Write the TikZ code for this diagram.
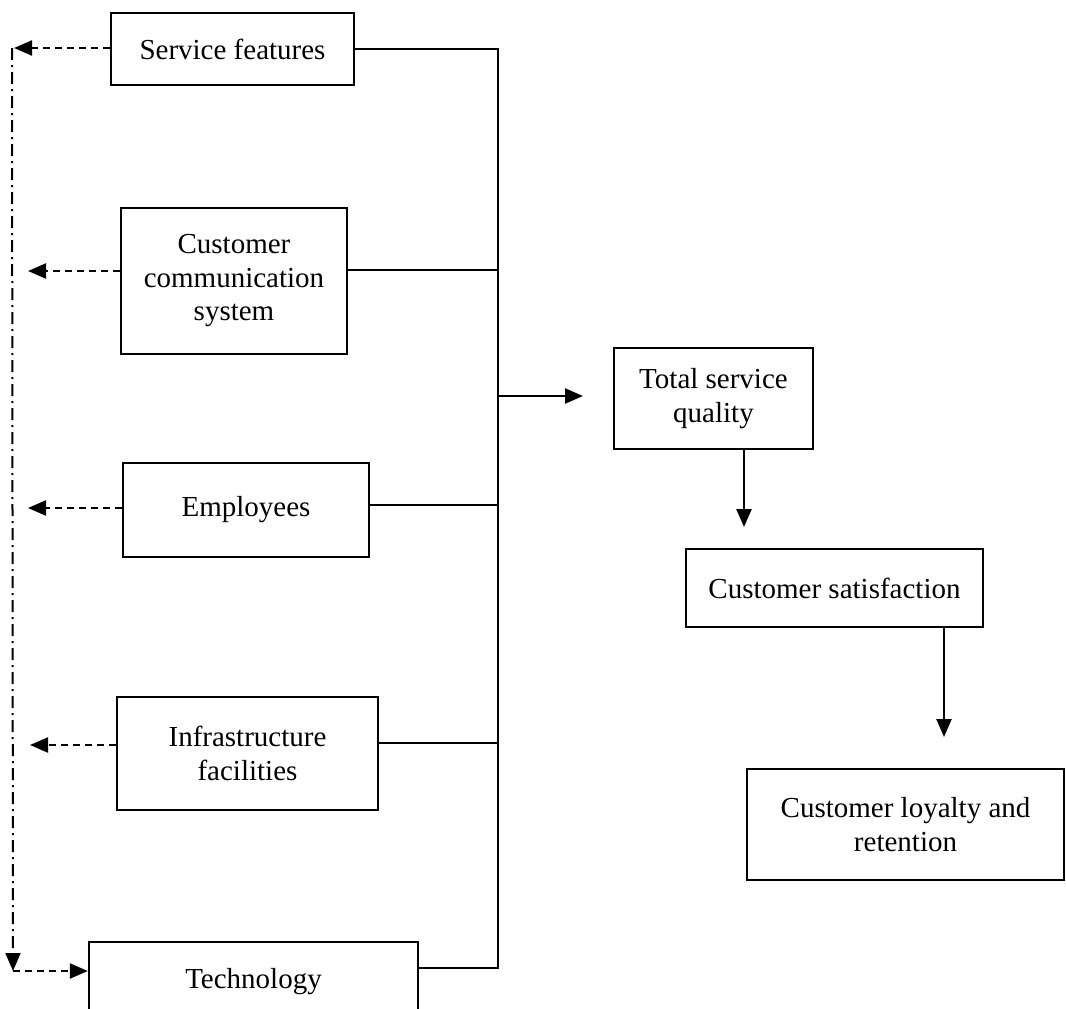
\documentclass[tikz,border=0pt]{standalone}
\usepackage{fontspec}
\setmainfont{Liberation Serif}
\usetikzlibrary{arrows.meta}

\begin{document}
\begin{tikzpicture}[x=1pt, y=-1pt, line width=2.4pt,
  box/.style={draw, rectangle, inner sep=0pt, align=center,
    font=\fontsize{29}{33.5}\selectfont},
  tip/.style={-{Triangle[length=18pt,width=15pt]}},
  dashline/.style={dash pattern=on 7pt off 5pt, line width=2.2pt},
  dashdotline/.style={dash pattern=on 12pt off 5pt on 2pt off 5pt, line width=2pt}]
\useasboundingbox (0,0) rectangle (1066,1009);
\clip (0,0) rectangle (1066,1009);

% quality dimensions
\node[box, minimum width=243pt, minimum height=72pt]  (sf)   at (232.5,49)  {Service features};
\node[box, minimum width=226pt, minimum height=146pt] (ccs)  at (234,281)   {Customer\\communication\\system};
\node[box, minimum width=246pt, minimum height=94pt]  (emp)  at (246,510)   {Employees};
\node[box, minimum width=261pt, minimum height=113pt] (inf)  at (247.5,753.5) {Infrastructure\\facilities};
\node[box, minimum width=329pt, minimum height=80pt]  (tech) at (253.5,982) {Technology};

% outcome chain
\node[box, minimum width=199pt, minimum height=101pt] (tsq) at (713.5,398.5) {Total service\\quality};
\node[box, minimum width=297pt, minimum height=78pt]  (cs)  at (834.5,588)   {Customer satisfaction};
\node[box, minimum width=317pt, minimum height=111pt] (clr) at (905.5,824.5) {Customer loyalty and\\retention};

% collecting bus
\coordinate (busTop) at (498,49);
\coordinate (busBot) at (498,968);
\coordinate (busOut) at (498,396);
\coordinate (tsqIn) at (583,396);
\draw (sf.east) -- (busTop) -- (busBot) -- (tech.east |- busBot);
\draw (ccs.east |- 0,270) -- (busTop |- 0,270);
\draw (emp.east |- 0,505) -- (busTop |- 0,505);
\draw (inf.east |- 0,743) -- (busTop |- 0,743);
\draw[tip] (busOut) -- (tsqIn);

% downward chain
\coordinate (csIn) at (744,527);
\coordinate (clrIn) at (944,737);
\draw[tip] (tsq.south -| csIn) -- (csIn);
\draw[tip] (cs.south -| clrIn) -- (clrIn);

% feedback paths on the left
\coordinate (sfL)  at (14,48);
\coordinate (ccsL) at (28,271);
\coordinate (empL) at (28,508);
\coordinate (infL) at (30,745);
\coordinate (railTop) at (12,48);
\coordinate (railBot) at (13,971);
\draw[dashline, tip] (sf.west |- sfL) -- (sfL);
\draw[dashline, tip] (ccs.west |- ccsL) -- (ccsL);
\draw[dashline, tip] (emp.west |- empL) -- (empL);
\draw[dashline, tip] (inf.west |- infL) -- (infL);
\draw[dashdotline, tip] (railTop) -- (railBot);
\draw[dashline, tip] (railBot) -- (tech.west |- railBot);
\end{tikzpicture}
\end{document}
